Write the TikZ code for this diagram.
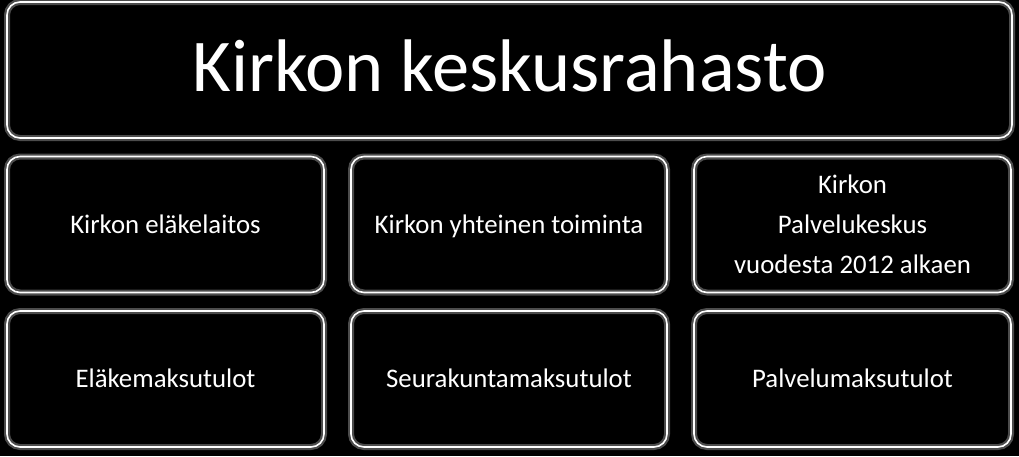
\documentclass[tikz,border=0pt]{standalone}
\usepackage{fontspec}
\setmainfont{Carlito}
\begin{document}
\begin{tikzpicture}[x=1pt,y=-1pt,
  box/.style={draw=white,line width=1.6pt,rounded corners=13pt,
    minimum width=#1,minimum height=136pt,inner sep=0pt,
    text=white,align=center,font=\fontsize{26.8}{40}\selectfont,
    preaction={draw=white!30!black,line width=6pt}},
  box/.default=317pt,
  oneline/.style={text height=24.5pt,text depth=6.7pt},
  title/.style={font=\fontsize{74.5}{80}\selectfont,text height=56pt,text depth=14pt}]
\fill[black] (0,0) rectangle (1019,456);
\useasboundingbox (0,0) rectangle (1019,456);

\node[box=1005pt,title] (rahasto) at (509.5,70) {Kirkon keskusrahasto};

\node[box,oneline] (elake) at (165.5,224.5) {Kirkon eläkelaitos};
\node[box=316pt,oneline] (yhteinen) at (509,224.5) {Kirkon yhteinen toiminta};
\node[box] (palvelu) at (852.5,224.5) {Kirkon\\Palvelukeskus\\vuodesta 2012 alkaen};

\node[box,oneline] (elaketulot) at (165.5,379) {Eläkemaksutulot};
\node[box=316pt,oneline] (srktulot) at (509,379) {Seurakuntamaksutulot};
\node[box,oneline] (palvelutulot) at (852.5,379) {Palvelumaksutulot};
\end{tikzpicture}
\end{document}
